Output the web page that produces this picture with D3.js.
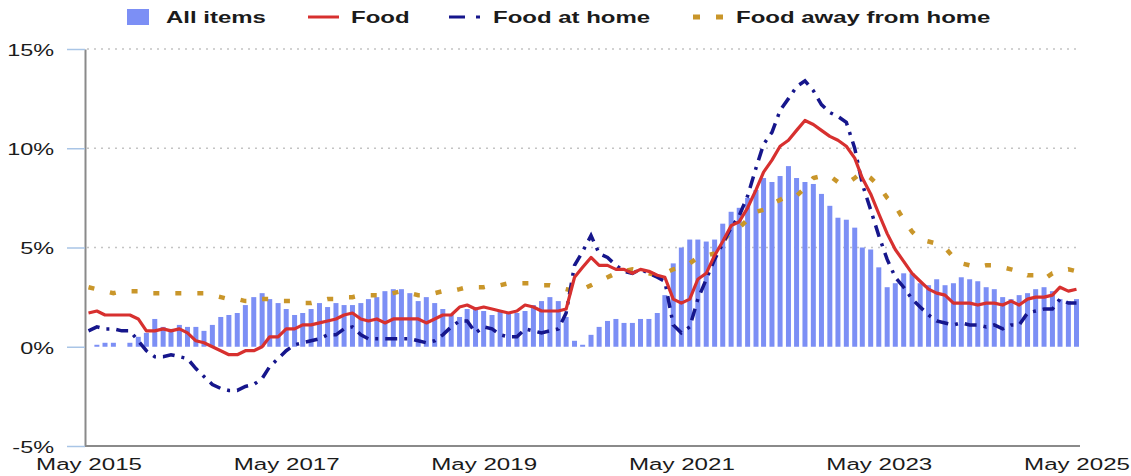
<!DOCTYPE html>
<html><head><meta charset="utf-8">
<script src="https://cdn.jsdelivr.net/npm/d3@7"></script>
<style>
body{margin:0;background:#fff;}
svg{display:block;}
text{font-family:"Liberation Sans",Arial,Helvetica,sans-serif;}
</style></head><body>
<svg id="c" width="1131" height="476"></svg>
<script>
// ---- data (12-month % change, monthly, May 2015 - May 2025) ----
const startMonth = "2015-05";
const endMonth = "2025-05";
const tickLabels = ["May 2015","May 2017","May 2019","May 2021","May 2023","May 2025"];
const yTicks = [-5, 0, 5, 10, 15];
const gridTicks = [5, 10, 15];
const seriesNames = ["All items", "Food", "Food at home", "Food away from home"];

const allItems = [
  0.0,0.1,0.2,0.2,0.0,0.2,0.5,0.7,
  1.4,1.0,0.9,1.1,1.0,1.0,0.8,1.1,1.5,1.6,1.7,2.1,
  2.5,2.7,2.4,2.2,1.9,1.6,1.7,1.9,2.2,2.0,2.2,2.1,
  2.1,2.2,2.4,2.5,2.8,2.9,2.9,2.7,2.3,2.5,2.2,1.9,
  1.6,1.5,1.9,2.0,1.8,1.6,1.8,1.7,1.7,1.8,2.1,2.3,
  2.5,2.3,1.5,0.3,0.1,0.6,1.0,1.3,1.4,1.2,1.2,1.4,
  1.4,1.7,2.6,4.2,5.0,5.4,5.4,5.3,5.4,6.2,6.8,7.0,
  7.5,7.9,8.5,8.3,8.6,9.1,8.5,8.3,8.2,7.7,7.1,6.5,
  6.4,6.0,5.0,4.9,4.0,3.0,3.2,3.7,3.7,3.2,3.1,3.4,
  3.1,3.2,3.5,3.4,3.3,3.0,2.9,2.5,2.4,2.6,2.7,2.9,
  3.0,2.8,2.4,2.3,2.4
];
const food = [
  1.7,1.8,1.6,1.6,1.6,1.6,1.4,0.8,
  0.8,0.9,0.8,0.9,0.7,0.3,0.2,0.0,-0.2,-0.4,-0.4,-0.2,
  -0.2,0.0,0.5,0.5,0.9,0.9,1.1,1.1,1.2,1.3,1.4,1.6,
  1.7,1.4,1.3,1.4,1.2,1.4,1.4,1.4,1.4,1.2,1.4,1.6,
  1.6,2.0,2.1,1.9,2.0,1.9,1.8,1.7,1.8,2.1,2.0,1.8,
  1.8,1.8,1.9,3.5,4.0,4.5,4.1,4.1,3.9,3.9,3.7,3.9,
  3.8,3.6,3.5,2.4,2.2,2.4,3.4,3.7,4.6,5.3,6.1,6.3,
  7.0,7.9,8.8,9.4,10.1,10.4,10.9,11.4,11.2,10.9,10.6,10.4,
  10.1,9.5,8.5,7.7,6.7,5.7,4.9,4.3,3.7,3.3,2.9,2.7,
  2.6,2.2,2.2,2.2,2.1,2.2,2.2,2.1,2.3,2.1,2.4,2.5,
  2.5,2.6,3.0,2.8,2.9
];
const foodAtHome = [
  0.8,1.0,0.9,0.9,0.8,0.8,0.3,-0.2,
  -0.5,-0.5,-0.4,-0.5,-0.6,-1.1,-1.5,-1.9,-2.1,-2.2,-2.2,-2.0,
  -1.9,-1.6,-1.0,-0.6,-0.2,0.1,0.2,0.3,0.4,0.6,0.6,0.9,
  1.0,0.6,0.4,0.4,0.4,0.4,0.4,0.4,0.3,0.2,0.3,0.6,
  1.0,1.3,1.3,0.7,1.0,0.9,0.6,0.5,0.5,0.9,0.8,0.7,
  0.8,0.9,1.7,4.1,4.8,5.6,4.7,4.5,4.1,3.8,3.7,3.9,
  3.7,3.5,3.3,1.1,0.7,1.0,2.4,3.4,4.4,5.2,6.0,6.6,
  7.6,9.0,10.2,10.8,11.9,12.5,13.1,13.4,12.9,12.2,11.8,11.6,
  11.3,10.0,8.2,6.9,5.6,4.4,3.5,3.0,2.4,2.0,1.6,1.3,
  1.2,1.1,1.2,1.1,1.1,1.0,1.1,0.9,1.1,1.1,1.7,1.8,
  1.9,1.9,2.4,2.2,2.2
];
const foodAway = [
  3.0,2.9,2.8,2.7,2.8,2.8,2.8,2.7,
  2.7,2.7,2.7,2.7,2.7,2.7,2.7,2.6,2.5,2.4,2.4,2.3,
  2.3,2.4,2.4,2.3,2.3,2.3,2.2,2.2,2.3,2.4,2.4,2.5,
  2.5,2.6,2.6,2.6,2.6,2.7,2.8,2.7,2.6,2.6,2.7,2.8,
  2.8,2.9,3.0,3.0,3.0,3.1,3.1,3.2,3.2,3.2,3.2,3.1,
  3.1,3.0,2.9,2.8,2.9,3.1,3.3,3.5,3.7,3.8,3.9,3.8,
  3.7,3.6,3.7,3.9,4.0,4.2,4.5,4.6,4.7,5.3,5.8,6.0,
  6.4,6.8,6.9,7.2,7.4,7.6,7.6,8.0,8.5,8.6,8.6,8.3,
  8.2,8.5,8.8,8.5,8.1,7.5,7.1,6.4,5.8,5.4,5.3,5.2,
  5.0,4.5,4.2,4.1,4.0,4.1,4.1,4.0,3.9,3.8,3.6,3.6,
  3.4,3.7,3.8,3.9,3.8
];

// ---- styles ----
const C = { bar:"#7c8ff5", food:"#d7302f", home:"#16168c", away:"#c9962a",
            axis:"#8a8a8a", tick:"#a9c5e6", grid:"#c4c4c4", text:"#1b1b1b" };
const SX = 1.42; // horizontal glyph stretch seen in the reference

const svg = d3.select("#c");
const parse = d3.timeParse("%Y-%m");
const dates = d3.timeMonth.range(parse(startMonth), d3.timeMonth.offset(parse(endMonth), 1));
const x = d3.scaleTime().domain([dates[0], dates[dates.length-1]]).range([88.5, 1076.5]);
const y = d3.scaleLinear().domain([-5, 15]).range([446, 49]);
const plotL = 85, plotR = 1080;

// gridlines
svg.append("g").selectAll("line").data(gridTicks).join("line")
  .attr("x1", plotL + 2).attr("x2", plotR)
  .attr("y1", d => y(d)).attr("y2", d => y(d))
  .attr("stroke", C.grid).attr("stroke-width", 1.3).attr("stroke-dasharray", "2,5");

// bars
svg.append("g").selectAll("rect").data(allItems).join("rect")
  .attr("x", (d,i) => x(dates[i]) - 2.5)
  .attr("width", 5)
  .attr("y", d => y(Math.max(d,0)))
  .attr("height", d => Math.abs(y(d) - y(0)))
  .attr("fill", C.bar);

// lines
const line = d3.line().x((d,i) => x(dates[i])).y(d => y(d));
svg.append("path").datum(foodAway).attr("d", line).attr("fill","none")
  .attr("stroke", C.away).attr("stroke-width", 4.5).attr("stroke-dasharray","6,16");
svg.append("path").datum(foodAtHome).attr("d", line).attr("fill","none")
  .attr("stroke", C.home).attr("stroke-width", 3.5).attr("stroke-dasharray","12,7,3,7");
svg.append("path").datum(food).attr("d", line).attr("fill","none")
  .attr("stroke", C.food).attr("stroke-width", 3.2).attr("stroke-linejoin","round");

// y axis
const yAxis = svg.append("g").attr("transform", `translate(${plotL},0)`)
  .call(d3.axisLeft(y).tickValues(yTicks).tickSize(18).tickSizeOuter(0).tickFormat(d => d + "%"));
yAxis.select(".domain").attr("stroke", C.axis).attr("stroke-width", 2);
yAxis.selectAll(".tick line").attr("stroke", C.tick).attr("stroke-width", 1.5);
yAxis.selectAll(".tick text").attr("x", -31/SX).attr("dy", "0.38em")
  .attr("transform", `scale(${SX},1)`)
  .style("font-size", "16.5px").attr("fill", C.text);

// x axis
svg.append("line").attr("x1", plotL).attr("x2", plotR).attr("y1", y(-5)).attr("y2", y(-5))
  .attr("stroke", C.axis).attr("stroke-width", 2);
const fmt = d3.timeParse("%b %Y");
const xAxis = svg.append("g").attr("transform", `translate(0,${y(-5)})`)
  .call(d3.axisBottom(x).tickValues(tickLabels.map(fmt)).tickSize(0).tickFormat(d3.timeFormat("%b %Y")));
xAxis.select(".domain").remove();
xAxis.selectAll(".tick text").attr("y", 24).attr("dy", 0)
  .attr("transform", `scale(${SX},1)`)
  .style("font-size", "17px").attr("fill", C.text);

// legend
const lg = svg.append("g");
const ly = 17;
lg.append("rect").attr("x", 127).attr("y", 9).attr("width", 22).attr("height", 16).attr("fill", C.bar);
lg.append("line").attr("x1", 308).attr("x2", 339).attr("y1", ly).attr("y2", ly)
  .attr("stroke", C.food).attr("stroke-width", 3);
lg.append("line").attr("x1", 449).attr("x2", 481).attr("y1", ly).attr("y2", ly)
  .attr("stroke", C.home).attr("stroke-width", 3).attr("stroke-dasharray", "16,11,4,20");
lg.append("line").attr("x1", 693).attr("x2", 723).attr("y1", ly).attr("y2", ly)
  .attr("stroke", C.away).attr("stroke-width", 5).attr("stroke-dasharray", "7,16");
const legendX = [166, 351, 493, 736];
lg.selectAll("text").data(seriesNames).join("text")
  .attr("transform", (d,i) => `translate(${legendX[i]},23) scale(1.5,1)`)
  .text(d => d)
  .style("font-size", "16px").style("font-weight", "bold").attr("fill", C.text);
</script>
</body></html>
